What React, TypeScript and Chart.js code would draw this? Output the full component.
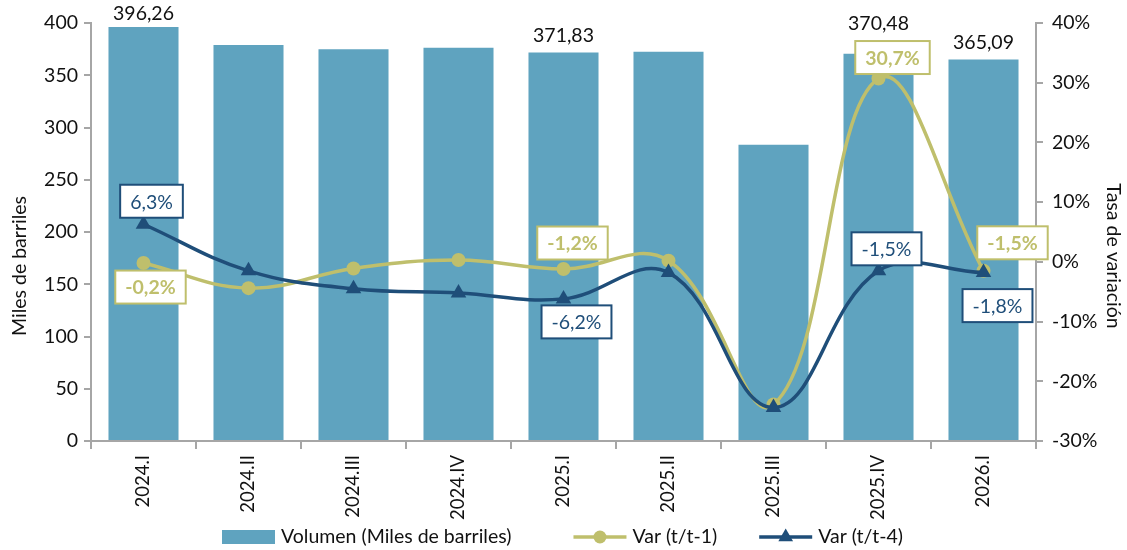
import React, { useEffect, useRef } from 'react';
import { Chart, registerables } from 'chart.js';

Chart.register(...registerables);

// ---------- data ----------
const categories = ['2024.I', '2024.II', '2024.III', '2024.IV', '2025.I', '2025.II', '2025.III', '2025.IV', '2026.I'];
const volume = [396.26, 379.0, 375.0, 376.3, 371.83, 372.5, 283.5, 370.48, 365.09];
const varQoQ = [-0.2, -4.4, -1.1, 0.3, -1.2, 0.2, -23.9, 30.7, -1.5];
const varYoY = [6.3, -1.5, -4.5, -5.2, -6.2, -1.8, -24.4, -1.5, -1.8];
const volumeLabelIdx = [0, 4, 7, 8];
const qoqLabelIdx = [0, 4, 7, 8];
const yoyLabelIdx = [0, 4, 7, 8];
const seriesNames = ['Volumen (Miles de barriles)', 'Var (t/t-1)', 'Var (t/t-4)'];
const leftTitle = 'Miles de barriles';
const rightTitle = 'Tasa de variación';

// ---------- style ----------
const BAR = '#5fa3bf';
const OLIVE = '#bfbf6c';
const NAVY = '#1f4e79';
const AXIS = '#a6a6a6';
const TXT = '#111111';
const FONT = 'Lato, "Open Sans", sans-serif';
const FS = 19.5;
const FSX = 18.5;

// label offsets in px (style only)
const volumeLabelDy: Record<number, number> = { 0: -13, 4: -17, 7: -30, 8: -17 };
const qoqBoxOff: Record<number, [number, number]> = { 0: [7, 24], 4: [9, -26], 7: [14, -21], 8: [29, -28] };
const yoyBoxOff: Record<number, [number, number]> = { 0: [8, -23], 4: [13, 23], 7: [8, -22], 8: [14, 33] };

const fmt = (v: number, d: number) => v.toFixed(d).replace('.', ',');

const labelsPlugin = {
  id: 'customLabels',
  afterDatasetsDraw(chart: any) {
    const ctx = chart.ctx as CanvasRenderingContext2D;
    ctx.save();
    // bar value labels
    const barMeta = chart.getDatasetMeta(0);
    ctx.font = `${FS}px ${FONT}`;
    ctx.fillStyle = TXT;
    ctx.textAlign = 'center';
    ctx.textBaseline = 'middle';
    volumeLabelIdx.forEach((i) => {
      const el = barMeta.data[i];
      ctx.fillText(fmt(volume[i], 2), el.x, el.y + volumeLabelDy[i]);
    });

    const drawBox = (x: number, y: number, text: string, color: string, bold: boolean) => {
      ctx.font = `${bold ? 'bold ' : ''}${FS}px ${FONT}`;
      const w = ctx.measureText(text).width + 20;
      const h = 33;
      ctx.fillStyle = '#ffffff';
      ctx.fillRect(x - w / 2, y - h / 2, w, h);
      ctx.lineWidth = 2;
      ctx.strokeStyle = color;
      ctx.strokeRect(x - w / 2, y - h / 2, w, h);
      ctx.fillStyle = color;
      ctx.textAlign = 'center';
      ctx.textBaseline = 'middle';
      ctx.fillText(text, x, y + 1);
    };

    const qMeta = chart.getDatasetMeta(1);
    qoqLabelIdx.forEach((i) => {
      const el = qMeta.data[i];
      const [dx, dy] = qoqBoxOff[i];
      drawBox(el.x + dx, el.y + dy, fmt(varQoQ[i], 1) + '%', OLIVE, true);
    });
    const yMeta = chart.getDatasetMeta(2);
    yoyLabelIdx.forEach((i) => {
      const el = yMeta.data[i];
      const [dx, dy] = yoyBoxOff[i];
      drawBox(el.x + dx, el.y + dy, fmt(varYoY[i], 1) + '%', NAVY, false);
    });
    ctx.restore();
  },
  afterDraw(chart: any) {
    const ctx = chart.ctx as CanvasRenderingContext2D;
    ctx.save();
    ctx.font = `${FS}px ${FONT}`;
    // axis titles
    ctx.fillStyle = TXT;
    ctx.textAlign = 'center';
    ctx.textBaseline = 'middle';
    ctx.save();
    ctx.translate(20, 266);
    ctx.rotate(-Math.PI / 2);
    ctx.fillText(leftTitle, 0, 0);
    ctx.restore();
    ctx.save();
    ctx.translate(1113, 256);
    ctx.rotate(Math.PI / 2);
    ctx.fillText(rightTitle, 0, 0);
    ctx.restore();

    // legend
    ctx.textAlign = 'left';
    ctx.textBaseline = 'middle';
    const y = 537;
    let x = 222;
    ctx.fillStyle = BAR;
    ctx.fillRect(x, y - 7, 53, 14);
    ctx.fillStyle = TXT;
    ctx.fillText(seriesNames[0], x + 59, y);
    x += 59 + ctx.measureText(seriesNames[0]).width + 62;
    // olive
    ctx.strokeStyle = OLIVE;
    ctx.lineWidth = 3.5;
    ctx.beginPath();
    ctx.moveTo(x, y);
    ctx.lineTo(x + 53, y);
    ctx.stroke();
    ctx.fillStyle = OLIVE;
    ctx.beginPath();
    ctx.arc(x + 26.5, y, 6.5, 0, Math.PI * 2);
    ctx.fill();
    ctx.fillStyle = TXT;
    ctx.fillText(seriesNames[1], x + 59, y);
    x += 59 + ctx.measureText(seriesNames[1]).width + 42;
    // navy
    ctx.strokeStyle = NAVY;
    ctx.beginPath();
    ctx.moveTo(x, y);
    ctx.lineTo(x + 53, y);
    ctx.stroke();
    ctx.fillStyle = NAVY;
    const cx = x + 26.5;
    const r = 8.5;
    ctx.beginPath();
    ctx.moveTo(cx, y - r);
    ctx.lineTo(cx + r * Math.sin((2 * Math.PI) / 3), y - r * Math.cos((2 * Math.PI) / 3));
    ctx.lineTo(cx - r * Math.sin((2 * Math.PI) / 3), y - r * Math.cos((2 * Math.PI) / 3));
    ctx.closePath();
    ctx.fill();
    ctx.fillStyle = TXT;
    ctx.fillText(seriesNames[2], x + 59, y);
    ctx.restore();
  },
};

export default function App() {
  const ref = useRef<HTMLCanvasElement | null>(null);
  useEffect(() => {
    document.body.style.margin = '0';
    if (!ref.current) return;
    const chart = new Chart(ref.current, {
      type: 'bar',
      data: {
        labels: categories,
        datasets: [
          {
            type: 'bar',
            label: seriesNames[0],
            data: volume,
            backgroundColor: BAR,
            yAxisID: 'y',
            order: 3,
            barPercentage: 0.667,
            categoryPercentage: 1,
          },
          {
            type: 'line',
            label: seriesNames[1],
            data: varQoQ,
            borderColor: OLIVE,
            backgroundColor: OLIVE,
            borderWidth: 3.5,
            pointRadius: 7,
            pointStyle: 'circle',
            pointBorderWidth: 0,
            tension: 0.4,
            yAxisID: 'y1',
            order: 2,
            clip: false,
          },
          {
            type: 'line',
            label: seriesNames[2],
            data: varYoY,
            borderColor: NAVY,
            backgroundColor: NAVY,
            borderWidth: 3.5,
            pointRadius: 9,
            pointStyle: 'triangle',
            pointBorderWidth: 0,
            tension: 0.4,
            yAxisID: 'y1',
            order: 1,
            clip: false,
          },
        ] as any,
      },
      options: {
        responsive: false,
        animation: false,
        layout: { padding: { top: 23, left: 0, right: 0, bottom: 0 } },
        plugins: { legend: { display: false }, tooltip: { enabled: false } },
        scales: {
          x: {
            grid: { display: true, offset: true, drawOnChartArea: false, drawTicks: true, tickLength: 8, color: AXIS, lineWidth: 2 },
            border: { display: true, color: AXIS, width: 2 },
            ticks: {
              autoSkip: false,
              minRotation: 90,
              maxRotation: 90,
              padding: 6,
              color: TXT,
              font: { family: FONT, size: FSX },
            },
            afterFit: (s: any) => {
              s.height = 109;
            },
          },
          y: {
            position: 'left',
            min: 0,
            max: 400,
            ticks: { stepSize: 50, color: TXT, padding: 6, font: { family: FONT, size: FS } },
            grid: { display: true, drawOnChartArea: false, drawTicks: true, tickLength: 7, color: AXIS, lineWidth: 2 },
            border: { display: true, color: AXIS, width: 2 },
            afterFit: (s: any) => {
              s.width = 91;
            },
          },
          y1: {
            position: 'right',
            min: -30,
            max: 40,
            ticks: {
              stepSize: 10,
              color: TXT,
              padding: 9,
              font: { family: FONT, size: FS },
              callback: (v: any) => `${v}%`,
            },
            grid: { display: true, drawOnChartArea: false, drawTicks: true, tickLength: 7, color: AXIS, lineWidth: 2 },
            border: { display: true, color: AXIS, width: 2 },
            afterFit: (s: any) => {
              s.width = 91;
            },
          },
        },
      } as any,
      plugins: [labelsPlugin],
    });
    return () => chart.destroy();
  }, []);
  return (
    <div style={{ width: 1127, height: 550, background: '#fff' }}>
      <canvas ref={ref} width={1127} height={550} style={{ display: 'block' }} />
    </div>
  );
}
